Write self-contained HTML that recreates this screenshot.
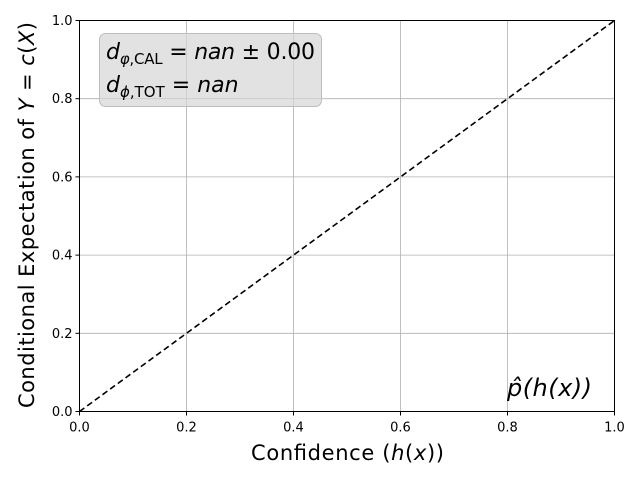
<!DOCTYPE html>
<html><head><meta charset="utf-8"><style>
html,body{margin:0;padding:0;background:#fff;}
svg{display:block;font-family:"DejaVu Sans","Liberation Sans",sans-serif;}
</style></head><body>
<svg id="chart" width="640" height="480" viewBox="0 0 640 480">
<rect width="640" height="480" fill="#fff"/>
<g id="grid"></g>
<g id="marks"></g>
<rect x="99.5" y="33.5" width="222" height="73" rx="6" fill="#d6d6d6" fill-opacity="0.7" stroke="#bdbdbd"/>
<text x="106" y="59" font-size="22" textLength="209"><tspan font-style="italic">d</tspan><tspan font-size="15" dy="5" font-style="italic">φ</tspan><tspan font-size="15">,CAL</tspan><tspan dy="-5"> = </tspan><tspan font-style="italic">nan</tspan><tspan> ± 0.00</tspan></text>
<text x="106" y="92" font-size="22"><tspan font-style="italic">d</tspan><tspan font-size="15" dy="5" font-style="italic">ϕ</tspan><tspan font-size="15">,TOT</tspan><tspan dy="-5"> = </tspan><tspan font-style="italic">nan</tspan></text>
<text x="507" y="396" font-size="24" font-style="italic" textLength="85">p̂(h(x))</text>
<rect x="79.5" y="20.5" width="535" height="391" fill="none" stroke="#000" stroke-width="1"/>
<g id="axes"></g>
<text x="251" y="460" font-size="21" textLength="193">Confidence (<tspan font-style="italic">h</tspan>(<tspan font-style="italic">x</tspan>))</text>
<text transform="translate(34,408) rotate(-90)" font-size="21" textLength="386">Conditional Expectation of <tspan font-style="italic">Y</tspan> = <tspan font-style="italic">c</tspan>(<tspan font-style="italic">X</tspan>)</text>
</svg>
<script>
const xTicks=[0,0.2,0.4,0.6,0.8,1.0];
const yTicks=[0,0.2,0.4,0.6,0.8,1.0];
const xTickLabels=["0.0","0.2","0.4","0.6","0.8","1.0"];
const yTickLabels=["0.0","0.2","0.4","0.6","0.8","1.0"];
const diagX=[0,1];
const diagY=[0,1];
const X0=79.5,X1=614.5,Y0=411.5,Y1=20.5;
const sx=v=>X0+(X1-X0)*v, sy=v=>Y0+(Y1-Y0)*v;
const NS="http://www.w3.org/2000/svg";
function mk(t,a,p){const e=document.createElementNS(NS,t);for(const k in a)e.setAttribute(k,a[k]);p.appendChild(e);return e;}
const grid=document.getElementById('grid'),axes=document.getElementById('axes'),marks=document.getElementById('marks');
xTicks.forEach((v,i)=>{
 const g=mk('line',{x1:sx(v),x2:sx(v),y1:Y0,y2:Y1,stroke:'#b0b0b0','stroke-width':0.8},grid);
 
 
 const t=mk('line',{x1:sx(v),x2:sx(v),y1:Y0,y2:Y0+4,stroke:'#000'},axes);
 
 
 const l=mk('text',{x:sx(v),y:Y0+20,'font-size':13,'text-anchor':'middle'},axes);
 l.textContent=xTickLabels[i];
 
 
});
yTicks.forEach((v,i)=>{
 const g=mk('line',{x1:X0,x2:X1,y1:sy(v),y2:sy(v),stroke:'#b0b0b0','stroke-width':0.8},grid);
 
 
 const t=mk('line',{x1:X0-4,x2:X0,y1:sy(v),y2:sy(v),stroke:'#000'},axes);
 
 
 const l=mk('text',{x:X0-7,y:sy(v)+4.5,'font-size':13,'text-anchor':'end'},axes);
 l.textContent=yTickLabels[i];
 
 
});
const d=mk('polyline',{points:diagX.map((v,i)=>sx(v)+','+sy(diagY[i])).join(' '),fill:'none',stroke:'#000','stroke-width':1.6,'stroke-dasharray':'6,3.5'},marks);


</script>
</body></html>
